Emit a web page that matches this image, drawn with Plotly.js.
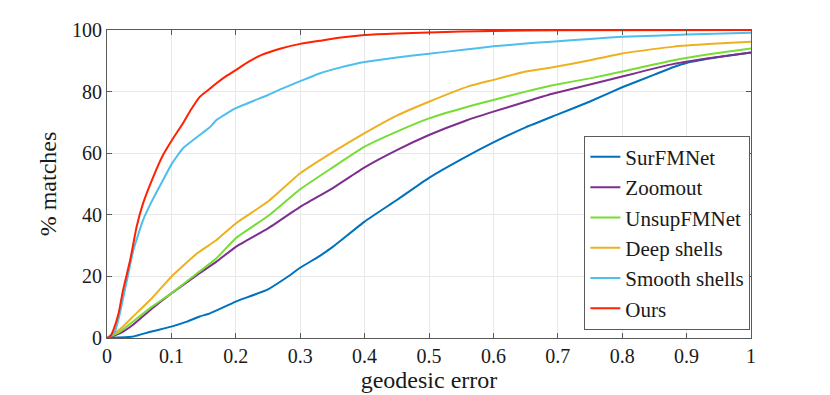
<!DOCTYPE html>
<html>
<head>
<meta charset="utf-8">
<script src="https://cdn.plot.ly/plotly-3.0.1.min.js"></script>
<style>
  html, body { margin: 0; padding: 0; background: #fff; }
  #chart { width: 830px; height: 395px; }
  #chart svg text { font-family: 'Liberation Serif', serif !important; }
</style>
</head>
<body>
<div id="chart"></div>
<script>
// geodesic error thresholds and % matches
var errSurf = [0, 0.041, 0.067, 0.10, 0.124, 0.144, 0.16, 0.20, 0.25, 0.28, 0.30, 0.33, 0.35, 0.40, 0.45, 0.50, 0.55, 0.60, 0.65, 0.70, 0.75, 0.80, 0.85, 0.88, 0.90, 0.95, 1.0];
var surfFMNet = [0, 0.5, 2, 3.7, 5.3, 7, 8, 11.8, 15.8, 19.8, 22.8, 26.6, 29.5, 37.8, 44.8, 52, 58, 63.5, 68.4, 72.6, 76.8, 81.4, 85.5, 88, 89.3, 91.2, 92.7];

var errZoom = [0, 0.02, 0.04, 0.07, 0.10, 0.14, 0.17, 0.20, 0.25, 0.30, 0.35, 0.40, 0.45, 0.50, 0.56, 0.60, 0.65, 0.69, 0.75, 0.80, 0.88, 0.94, 1.0];
var zoomout = [0, 1.5, 4.2, 9.6, 14.5, 20.5, 24.8, 29.6, 35.6, 42.6, 48.6, 55.4, 61.0, 65.9, 70.8, 73.5, 76.7, 79.2, 82.3, 84.9, 89.0, 91.0, 92.7];

var errUnsup = [0, 0.02, 0.04, 0.07, 0.10, 0.14, 0.17, 0.20, 0.25, 0.30, 0.35, 0.40, 0.45, 0.50, 0.56, 0.60, 0.65, 0.69, 0.75, 0.80, 0.88, 0.94, 1.0];
var unsupFMNet = [0, 2, 5.3, 10.2, 14.5, 21.0, 25.9, 32.4, 39.6, 48.3, 55.3, 62.1, 67.0, 71.3, 75.1, 77.3, 80.0, 82.0, 84.3, 86.5, 90.2, 92.3, 94.0];

var errDeep = [0, 0.02, 0.04, 0.07, 0.10, 0.14, 0.17, 0.20, 0.25, 0.30, 0.35, 0.40, 0.45, 0.50, 0.56, 0.60, 0.65, 0.69, 0.75, 0.80, 0.88, 0.94, 1.0];
var deepShells = [0, 2.8, 6.9, 13.0, 19.9, 27.5, 31.8, 37.2, 44.3, 53.5, 60.3, 66.5, 72.2, 76.7, 81.6, 83.8, 86.5, 87.8, 90.2, 92.4, 94.6, 95.5, 96.2];

var errSmooth = [0, 0.012, 0.02, 0.031, 0.041, 0.056, 0.072, 0.087, 0.101, 0.118, 0.144, 0.16, 0.17, 0.20, 0.25, 0.27, 0.30, 0.33, 0.36, 0.40, 0.45, 0.50, 0.55, 0.60, 0.65, 0.69, 0.75, 0.80, 0.90, 1.0];
var smoothShells = [0, 2, 8, 18.8, 28.6, 38.3, 45.4, 51.3, 56.7, 61.6, 65.9, 68.5, 70.8, 74.6, 78.9, 80.8, 83.4, 85.9, 87.7, 89.6, 91.1, 92.3, 93.5, 94.7, 95.6, 96.2, 97.1, 97.8, 98.5, 99.1];

var errOurs = [0, 0.005, 0.01, 0.018, 0.025, 0.036, 0.046, 0.056, 0.072, 0.087, 0.101, 0.118, 0.13, 0.144, 0.16, 0.17, 0.185, 0.20, 0.22, 0.24, 0.27, 0.30, 0.33, 0.36, 0.40, 0.45, 0.50, 0.55, 0.60, 0.70, 1.0];
var ours = [0, 0.5, 2.6, 8, 15.6, 25.3, 36.1, 43.7, 52.4, 59.4, 64.3, 69.7, 74, 78.3, 81, 82.7, 85, 87, 89.7, 91.9, 94, 95.5, 96.5, 97.5, 98.4, 98.9, 99.2, 99.5, 99.7, 99.9, 100];

var names = ['SurFMNet', 'Zoomout', 'UnsupFMNet', 'Deep shells', 'Smooth shells', 'Ours'];
var colors = ['#0072BD', '#7E2F8E', '#77DD33', '#EDB120', '#4DBEEE', '#FF2200'];
var xs = [errSurf, errZoom, errUnsup, errDeep, errSmooth, errOurs];
var ys = [surfFMNet, zoomout, unsupFMNet, deepShells, smoothShells, ours];

var xTicks = [0, 0.1, 0.2, 0.3, 0.4, 0.5, 0.6, 0.7, 0.8, 0.9, 1];
var xTickText = ['0', '0.1', '0.2', '0.3', '0.4', '0.5', '0.6', '0.7', '0.8', '0.9', '1'];
var yTicks = [0, 20, 40, 60, 80, 100];

var serifFamily = 'Liberation Serif';
var textColor = '#1a1a1a';

var data = [];
for (var i = 0; i < names.length; i++) {
  data.push({
    x: xs[i], y: ys[i], name: names[i],
    type: 'scatter', mode: 'lines',
    line: { color: colors[i], width: 2, shape: 'spline', smoothing: 0.4 }
  });
}

function makeAxis(extra) {
  var ax = {
    showline: true, mirror: 'ticks', linecolor: '#5a5a5a', linewidth: 1,
    ticks: 'inside', ticklen: 5, tickcolor: '#5a5a5a',
    showgrid: true, gridcolor: '#e8e8e8', gridwidth: 1,
    zeroline: false,
    tickfont: { family: serifFamily, size: 20, color: textColor }
  };
  for (var k in extra) ax[k] = extra[k];
  return ax;
}

var layout = {
  width: 830, height: 395,
  margin: { l: 107, r: 79, t: 30, b: 57 },
  paper_bgcolor: '#fff', plot_bgcolor: '#fff',
  font: { family: serifFamily, color: textColor },
  xaxis: makeAxis({
    range: [0, 1], tickvals: xTicks, ticktext: xTickText,
    title: { text: 'geodesic error', font: { family: serifFamily, size: 24, color: textColor }, standoff: 2 }
  }),
  yaxis: makeAxis({
    range: [0, 100], tickvals: yTicks,
    title: { text: '% matches', font: { family: serifFamily, size: 24, color: textColor }, standoff: 8 }
  }),
  showlegend: true,
  legend: {
    x: 0.999, y: 0.027, xanchor: 'right', yanchor: 'bottom',
    bgcolor: '#fff', bordercolor: '#5a5a5a', borderwidth: 1,
    font: { family: serifFamily, size: 21, color: textColor },
    tracegroupgap: 0, itemwidth: 30
  }
};

Plotly.newPlot('chart', data, layout, { displayModeBar: false });
</script>
</body>
</html>
